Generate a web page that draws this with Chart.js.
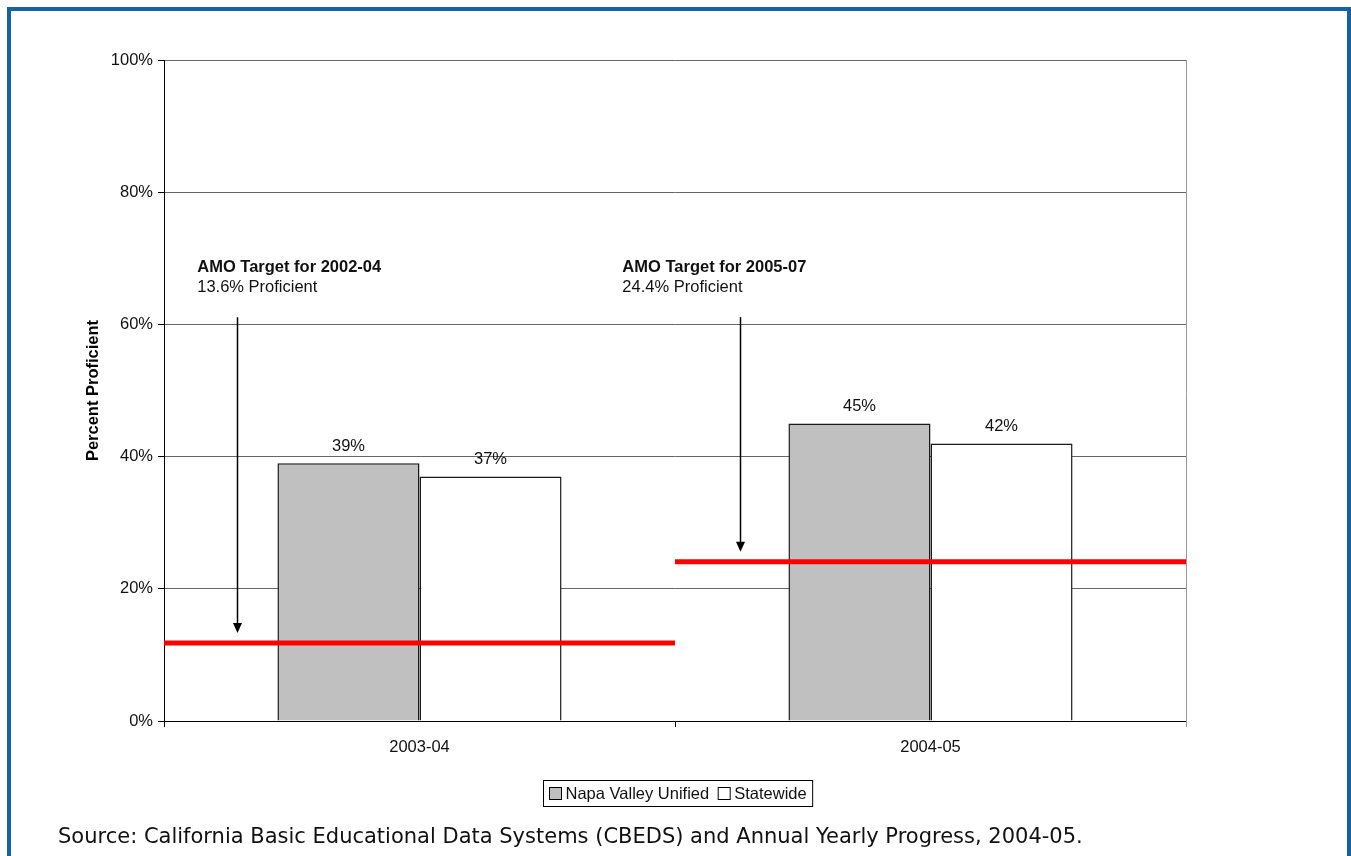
<!DOCTYPE html>
<html>
<head>
<meta charset="utf-8">
<script src="https://cdn.jsdelivr.net/npm/chart.js@4.4.1/dist/chart.umd.min.js"></script>
<style>
    html, body { margin: 0; padding: 0; background: #fff; overflow: hidden; }
    #frame {
        position: absolute; left: 7px; top: 7px; width: 1344px; height: 900px;
        border: 4px solid #1660a6; box-sizing: border-box;
    }
    #wrap { position: absolute; left: 0; top: 0; width: 1351px; height: 856px; }
    #source {
        position: absolute; left: 58px; top: 823px;
        font-family: 'DejaVu Sans', Verdana, sans-serif; font-size: 21px; line-height: 26px;
        color: #111; white-space: nowrap;
    }
</style>
</head>
<body>
<div id="frame"></div>
<div id="wrap"><canvas id="proficiencyChart"></canvas></div>
<div id="source">Source: California Basic Educational Data Systems (CBEDS) and Annual Yearly Progress, 2004-05.</div>

<script>
// chart data
const categories = ['2003-04', '2004-05'];
const napaValues = [39, 45];
const statewideValues = [37, 42];
const yTicks = [0, 20, 40, 60, 80, 100];

// AMO target lines as they sit on the chart (one per category)
const amoLevels = [11.8, 24.1];
const amoTitles = ['AMO Target for 2002-04', 'AMO Target for 2005-07'];
const amoSubtitles = ['13.6% Proficient', '24.4% Proficient'];

// where the callouts sit, in xLine / y units
const callouts = {
    textX: [0.065, 0.897],
    titleY: 68.6,
    subY: 65.6,
    arrowX: [0.143, 1.127],
    arrowTop: 61.1,
    arrowGap: 1.5
};

const FONT = "'Liberation Sans', Arial, sans-serif";

// red target lines, each spanning its own category, drawn over the bars
const targetLines = {
    id: 'targetLines',
    afterDatasetsDraw(chart) {
        const ctx = chart.ctx;
        const xs = chart.scales.xLine;
        const ys = chart.scales.y;
        ctx.save();
        ctx.strokeStyle = '#ff0000';
        ctx.lineWidth = 5;
        amoLevels.forEach((lvl, i) => {
            const y = ys.getPixelForValue(lvl);
            ctx.beginPath();
            ctx.moveTo(xs.getPixelForValue(i), y);
            ctx.lineTo(xs.getPixelForValue(i + 1), y);
            ctx.stroke();
        });
        ctx.restore();
    }
};

const extras = {
    id: 'extras',
    afterDatasetsDraw(chart) {
        const ctx = chart.ctx;
        const xs = chart.scales.xLine;
        const ys = chart.scales.y;
        const area = chart.chartArea;
        ctx.save();

        // plot border on the right
        ctx.strokeStyle = '#999';
        ctx.lineWidth = 1;
        ctx.beginPath();
        ctx.moveTo(area.right + 0.5, area.top);
        ctx.lineTo(area.right + 0.5, area.bottom + 6);
        ctx.stroke();

        // value labels over bars
        ctx.fillStyle = '#111';
        ctx.font = '16.5px ' + FONT;
        ctx.textAlign = 'center';
        ctx.textBaseline = 'middle';
        chart.data.datasets.forEach((ds, i) => {
            chart.getDatasetMeta(i).data.forEach((bar, j) => {
                ctx.fillText(ds.data[j] + '%', bar.x, bar.y - 17);
            });
        });

        // callouts
        ctx.textAlign = 'left';
        amoLevels.forEach((lvl, i) => {
            const tx = xs.getPixelForValue(callouts.textX[i]);
            ctx.font = 'bold 16.5px ' + FONT;
            ctx.fillText(amoTitles[i], tx, ys.getPixelForValue(callouts.titleY));
            ctx.font = '16.5px ' + FONT;
            ctx.fillText(amoSubtitles[i], tx, ys.getPixelForValue(callouts.subY));

            const ax = Math.round(xs.getPixelForValue(callouts.arrowX[i])) + 0.5;
            const top = ys.getPixelForValue(callouts.arrowTop);
            const tip = ys.getPixelForValue(lvl + callouts.arrowGap);
            ctx.strokeStyle = '#000';
            ctx.lineWidth = 1.5;
            ctx.beginPath();
            ctx.moveTo(ax, top);
            ctx.lineTo(ax, tip - 8);
            ctx.stroke();
            ctx.fillStyle = '#000';
            ctx.beginPath();
            ctx.moveTo(ax - 4.5, tip - 10);
            ctx.lineTo(ax + 4.5, tip - 10);
            ctx.lineTo(ax, tip);
            ctx.closePath();
            ctx.fill();
            ctx.fillStyle = '#111';
        });

        // legend box
        const bars = chart.data.datasets;
        ctx.font = '16.5px ' + FONT;
        const sw = 12, gap = 4, itemGap = 9, padX = 6;
        let total = padX * 2;
        bars.forEach((d, i) => {
            total += sw + gap + ctx.measureText(d.label).width + (i < bars.length - 1 ? itemGap : 0);
        });
        const cx = (area.left + area.right) / 2 + 3;
        const bx = Math.round(cx - total / 2) + 0.5;
        const by = area.bottom + 59.5;
        const bh = 26;
        ctx.strokeStyle = '#000';
        ctx.lineWidth = 1;
        ctx.strokeRect(bx, by, total, bh);
        let x = bx + padX;
        bars.forEach(d => {
            ctx.fillStyle = d.backgroundColor;
            ctx.fillRect(x, by + 7, sw, sw);
            ctx.strokeRect(x, by + 7, sw, sw);
            x += sw + gap;
            ctx.fillStyle = '#111';
            ctx.textAlign = 'left';
            ctx.fillText(d.label, x, by + bh / 2 + 0.5);
            x += ctx.measureText(d.label).width + itemGap;
        });

        ctx.restore();
    }
};

new Chart(document.getElementById('proficiencyChart').getContext('2d'), {
    type: 'bar',
    data: {
        labels: categories,
        datasets: [
            {
                label: 'Napa Valley Unified',
                data: napaValues,
                backgroundColor: '#c0c0c0', borderColor: '#1a1a1a', borderWidth: 1.5,
                categoryPercentage: 0.556, barPercentage: 1
            },
            {
                label: 'Statewide',
                data: statewideValues,
                backgroundColor: '#ffffff', borderColor: '#1a1a1a', borderWidth: 1.5,
                categoryPercentage: 0.556, barPercentage: 1
            }
        ]
    },
    options: {
        responsive: true,
        maintainAspectRatio: false,
        animation: false,
        layout: { padding: { left: 60, top: 60, right: 165, bottom: 95 } },
        plugins: { legend: { display: false }, tooltip: { enabled: false } },
        scales: {
            x: {
                type: 'category',
                grid: { offset: true, drawOnChartArea: false, tickLength: 6, color: '#000' },
                border: { color: '#000' },
                ticks: { color: '#111', font: { family: FONT, size: 16.5 }, padding: 11 },
                afterFit: s => { s.height = 40; }
            },
            xLine: {
                type: 'linear', axis: 'x', min: 0, max: 2, offset: false, display: false
            },
            y: {
                min: 0, max: 100,
                afterBuildTicks: s => { s.ticks = yTicks.map(v => ({ value: v })); },
                grid: { color: '#666', tickColor: '#000', tickLength: 6 },
                border: { color: '#000' },
                ticks: {
                    color: '#111', font: { family: FONT, size: 16.5 }, padding: 5,
                    callback: v => v + '%'
                },
                title: {
                    display: true, text: 'Percent Proficient', color: '#000',
                    font: { family: FONT, size: 16.5, weight: 'bold' }, padding: { top: 24, bottom: 0 }
                },
                afterFit: s => { s.width = 104; }
            }
        }
    },
    plugins: [targetLines, extras]
});
</script>
</body>
</html>
